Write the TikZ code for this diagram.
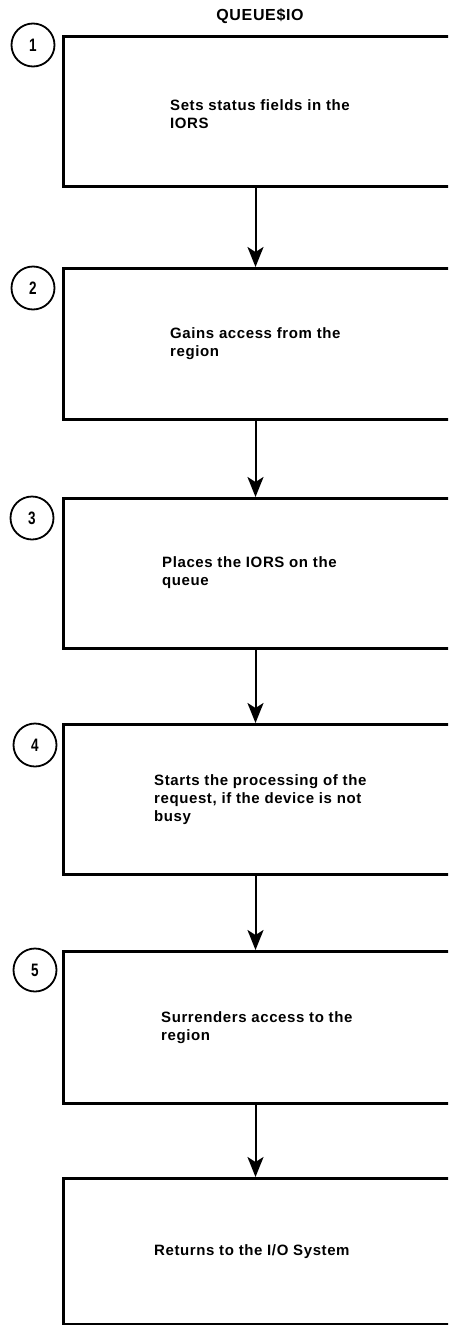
\documentclass[tikz,border=0pt]{standalone}
\usepackage{fontspec}
\setmainfont{Liberation Sans}
\newfontfamily\boxfont[LetterSpace=4]{Liberation Sans}
\newfontfamily\numfont[FakeStretch=0.75]{Liberation Sans}
\usetikzlibrary{arrows.meta}
\begin{document}
\begin{tikzpicture}[x=1pt,y=-1pt,
  stepbox/.style={draw, line width=3pt, minimum width=410pt, anchor=north west, inner sep=0pt},
  numcirc/.style={draw, circle, line width=1.8pt, minimum size=43pt, inner sep=0pt, font=\numfont\bfseries\fontsize{18}{18}\selectfont},
  steptext/.style={anchor=north west, align=left, inner sep=0pt, font=\boxfont\bfseries\fontsize{15}{18}\selectfont},
  flow/.style={line width=2pt, -{Stealth[length=20pt,width=16pt,inset=5pt]}}]
\useasboundingbox (0,0) rectangle (448,1325);
\clip (0,0) rectangle (448,1325);
\node[font=\boxfont\bfseries\fontsize{16}{16}\selectfont] (title) at (260,16) {QUEUE\$IO};
% boxes
\node[stepbox, minimum height=150pt] (b1) at (62,35) {};
\node[stepbox, minimum height=151pt] (b2) at (62,267) {};
\node[stepbox, minimum height=150pt] (b3) at (62,497) {};
\node[stepbox, minimum height=150pt] (b4) at (62,723) {};
\node[stepbox, minimum height=152pt] (b5) at (62,950) {};
\node[stepbox, minimum height=146pt] (b6) at (62,1177) {};
% numbers
\node[numcirc] (n1) at (33,45) {1};
\node[numcirc] (n2) at (33,288) {2};
\node[numcirc] (n3) at (32,518) {3};
\node[numcirc] (n4) at (35,745) {4};
\node[numcirc] (n5) at (35,970) {5};
% texts
\node[steptext] (t1) at (170,99) {Sets status fields in the\\IORS};
\node[steptext] (t2) at (170,327) {Gains access from the\\region};
\node[steptext] (t3) at (162,556) {Places the IORS on the\\queue};
\node[steptext] (t4) at (154,774) {Starts the processing of the\\request, if the device is not\\busy};
\node[steptext] (t5) at (161,1011) {Surrenders access to the\\region};
\node[steptext] (t6) at (154,1244) {Returns to the I/O System};
% arrows
\foreach \a/\b in {b1/b2,b2/b3,b3/b4,b4/b5,b5/b6}
  \draw[flow] ([xshift=-13pt]\a.south) -- ([xshift=-13pt]\b.north);
\end{tikzpicture}
\end{document}
